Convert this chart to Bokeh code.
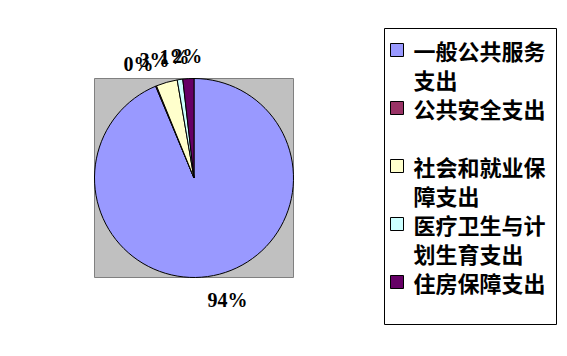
import math
from bokeh.plotting import figure
from bokeh.models import Range1d, ColumnDataSource
from bokeh.core.properties import value
from bokeh.embed import file_html
from bokeh.resources import INLINE

# ---------------- data ----------------
categories = ["一般公共服务支出", "公共安全支出", "社会和就业保障支出",
              "医疗卫生与计划生育支出", "住房保障支出"]
shares = [93.7, 0.15, 3.45, 0.9, 1.8]
pct_labels = ["94%", "0%", "3%", "1%", "2%"]
colors = ["#9999FF", "#993366", "#FFFFCC", "#CCFFFF", "#660066"]

# ---------------- layout (pixels) ----------------
W, H = 567, 356
CX, CY, R = 193.5, 177.5, 99.5          # pie centre / radius on the page
LEG_L, LEG_T, LEG_R, LEG_B = 384, 28, 556, 324
SQ_L, SQ = 390, 13
TXT_X = 413
FIRST_LINE, LINE_STEP, SLOT = 49.5, 29, 58
WRAP = 6
LABEL_PX = 20
LABEL_R = 1.17


def dx(px):
    return (px - CX) / R


def dy(py):
    return (CY - py) / R


p = figure(width=W, height=H, output_backend="svg", toolbar_location=None,
           x_axis_location=None, y_axis_location=None, title=None,
           x_range=Range1d(dx(0), dx(W)), y_range=Range1d(dy(H), dy(0)),
           min_border=0, outline_line_color=None)
p.grid.visible = False
p.background_fill_color = "white"
p.border_fill_color = "white"

# plot area (grey square)
p.quad(left=[-1], right=[1], bottom=[-1], top=[1],
       fill_color="#C0C0C0", line_color="#808080", line_width=1)

# pie slices: start at 12 o'clock, clockwise
total = sum(shares)
cum = [0.0]
for v in shares:
    cum.append(cum[-1] + v / total)
start = [math.pi / 2 - 2 * math.pi * cum[i + 1] for i in range(len(shares))]
end = [math.pi / 2 - 2 * math.pi * cum[i] for i in range(len(shares))]
src = ColumnDataSource(dict(start=start, end=end, color=colors))
p.wedge(x=0, y=0, radius=1, start_angle="start", end_angle="end",
        fill_color="color", line_color="black", line_width=1, source=src)

# percentage labels placed outside the slices
lx, ly = [], []
for i, lab in enumerate(pct_labels):
    th = 2 * math.pi * (cum[i] + cum[i + 1]) / 2
    s, c = math.sin(th), math.cos(th)
    ax, ay = LABEL_R * s, LABEL_R * c
    ndig = len(lab) - 1
    w = (ndig * 0.5 + 0.833) * LABEL_PX / R
    h = 0.68 * LABEL_PX / R
    sa = max(-1.0, min(1.0, 2.5 * s))
    ca = max(-1.0, min(1.0, 2.5 * c))
    lx.append(ax - w * (1 - sa) / 2)
    ly.append(ay - h * (1 - ca) / 2)
p.text(x=lx, y=ly, text=pct_labels, text_font=value("Liberation Serif"),
       text_font_style="bold", text_font_size=f"{LABEL_PX}px",
       text_align="left", text_baseline="alphabetic", text_color="black",
       y_offset=-6)

# legend
p.quad(left=[dx(LEG_L)], right=[dx(LEG_R)], top=[dy(LEG_T)], bottom=[dy(LEG_B)],
       fill_color="white", line_color="black", line_width=1)
sq_l, sq_r, sq_t, sq_b = [], [], [], []
tx, ty, tt = [], [], []
for i, name in enumerate(categories):
    yc = FIRST_LINE + SLOT * i
    sq_l.append(dx(SQ_L)); sq_r.append(dx(SQ_L + SQ))
    sq_t.append(dy(yc - SQ / 2)); sq_b.append(dy(yc + SQ / 2))
    lines = [name[k:k + WRAP] for k in range(0, len(name), WRAP)]
    for j, ln in enumerate(lines):
        tx.append(dx(TXT_X)); ty.append(dy(yc + LINE_STEP * j)); tt.append(ln)
p.quad(left=sq_l, right=sq_r, top=sq_t, bottom=sq_b, fill_color=colors,
       line_color="black", line_width=1)
p.text(x=tx, y=ty, text=tt, text_font=value("Noto Sans CJK SC"),
       text_font_style="bold", text_font_size="22px", text_align="left",
       text_baseline="middle", text_color="black")

open("out.html", "w").write(file_html(p, INLINE))
